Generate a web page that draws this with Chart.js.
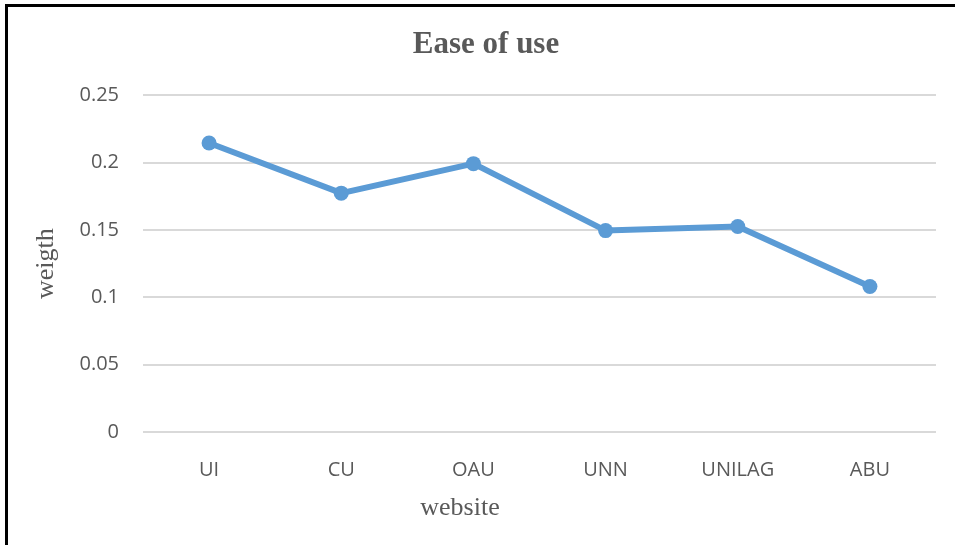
<!DOCTYPE html>
<html>
<head>
<meta charset="utf-8">
<script src="https://cdn.jsdelivr.net/npm/chart.js@4"></script>
<style>
  body { margin: 0; background: #fff; }
  #wrap { position: absolute; left: 0; top: 0; width: 955px; height: 545px; }
  #frame { position: absolute; left: 5px; top: 4px; width: 980px; height: 560px;
           border-left: 3px solid #000; border-top: 3px solid #000; pointer-events: none; }
</style>
</head>
<body>
<div id="wrap"><canvas id="myChart"></canvas></div>
<div id="frame"></div>
<script>
const websites = ["UI", "CU", "OAU", "UNN", "UNILAG", "ABU"];
const weights = [0.2145, 0.1773, 0.1992, 0.1495, 0.1525, 0.108];
const yTickLabels = ["0", "0.05", "0.1", "0.15", "0.2", "0.25"];
const xTitle = "website";

const grey = "#595959";
const serif = "'Liberation Serif', 'Times New Roman', serif";
const ctx = document.getElementById("myChart");

// x axis title in the reference sits left of the plot centre, so draw it here
const xTitlePlugin = {
  id: "xTitle",
  afterDraw(chart) {
    const c = chart.ctx;
    const xs = chart.scales.x;
    c.save();
    c.font = "26px " + serif;
    c.fillStyle = grey;
    c.textAlign = "center";
    c.textBaseline = "middle";
    c.fillText(xTitle, xs.left + 317, xs.bottom - 37);
    c.restore();
  },
};

new Chart(ctx, {
  type: "line",
  data: {
    labels: websites,
    datasets: [
      {
        label: "weigth",
        data: weights,
        borderColor: "#5B9BD5",
        backgroundColor: "#5B9BD5",
        borderWidth: 6,
        pointRadius: 7.5,
        pointBorderWidth: 0,
        pointBackgroundColor: "#5B9BD5",
        tension: 0,
      },
    ],
  },
  plugins: [xTitlePlugin],
  options: {
    responsive: true,
    maintainAspectRatio: false,
    animation: false,
    layout: { padding: { left: 36, right: 19, top: 3, bottom: 0 } },
    plugins: {
      legend: { display: false },
      tooltip: { enabled: false },
      title: {
        display: true,
        text: "Ease of use",
        color: grey,
        font: { family: serif, size: 31, weight: "bold" },
        padding: { top: 23, bottom: 32 },
      },
    },
    scales: {
      x: {
        offset: true,
        grid: { display: false },
        border: { display: false },
        ticks: { color: grey, padding: 18, font: { family: "'Open Sans'", size: 20 } },
        afterFit: (scale) => { scale.height = 113; },
      },
      y: {
        min: 0,
        max: 0.25,
        grid: { color: "#d9d9d9", lineWidth: 2, drawTicks: false },
        border: { display: false },
        ticks: {
          stepSize: 0.05,
          color: grey,
          padding: 24,
          font: { family: "'Open Sans'", size: 20 },
          callback: (value, index) => yTickLabels[index],
        },
        title: {
          display: true,
          text: "weigth",
          color: grey,
          font: { family: serif, size: 26, lineHeight: 0.8 },
          padding: { top: 0, bottom: 0 },
        },
        afterFit: (scale) => { scale.width = 107; },
      },
    },
  },
});
</script>
</body>
</html>
